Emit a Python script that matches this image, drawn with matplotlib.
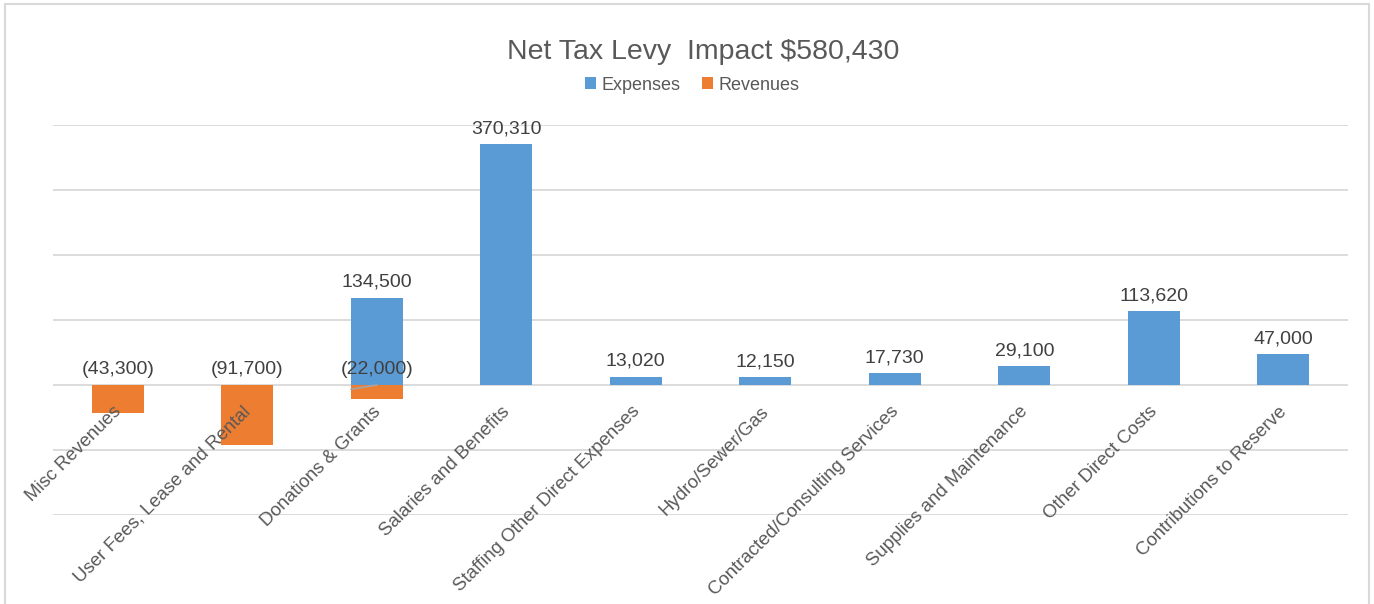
import matplotlib.pyplot as plt
from matplotlib.patches import Rectangle
import numpy as np

plt.rcParams['font.family'] = ['Liberation Sans', 'DejaVu Sans']

categories = ["Misc Revenues", "User Fees, Lease and Rental", "Donations & Grants",
              "Salaries and Benefits", "Staffing Other Direct Expenses", "Hydro/Sewer/Gas",
              "Contracted/Consulting Services", "Supplies and Maintenance",
              "Other Direct Costs", "Contributions to Reserve"]
expenses = [np.nan, np.nan, 134500, 370310, 13020, 12150, 17730, 29100, 113620, 47000]
revenues = [-43300, -91700, -22000, np.nan, np.nan, np.nan, np.nan, np.nan, np.nan, np.nan]
title = "Net Tax Levy  Impact $580,430"

blue = "#5B9BD5"
orange = "#ED7D31"
grey = "#595959"

fig = plt.figure(figsize=(13.74, 6.04), dpi=100)
W, H = 1374, 604
ax = fig.add_axes([53 / W, 1 - 515 / H, (1348 - 53) / W, (515 - 125) / H])

# chart frame
fig.patches.append(Rectangle((5 / W, -0.01), (1369 - 5) / W, 1 - 4 / H + 0.01,
                             transform=fig.transFigure, fill=False,
                             edgecolor="#D9D9D9", linewidth=1.5))

x = np.arange(len(categories))
ax.bar(x, expenses, width=0.4, color=blue, label="Expenses", zorder=3)
ax.bar(x, revenues, width=0.4, color=orange, label="Revenues", zorder=3)

ax.set_xlim(-0.5, len(categories) - 0.5)
ax.set_ylim(-200000, 400000)
ax.set_yticks(np.arange(-200000, 400001, 100000))
ax.yaxis.grid(True, color="#D9D9D9", linewidth=1.3)
ax.set_axisbelow(True)
ax.set_xticks([])
ax.tick_params(left=False, labelleft=False)
for s in ax.spines.values():
    s.set_visible(False)

# data labels
for i, v in enumerate(expenses):
    if not np.isnan(v):
        ax.annotate(f"{v:,.0f}", (i, v), xytext=(0, 5), textcoords="offset points",
                    ha="center", va="bottom", fontsize=14, color="#404040")
for i, v in enumerate(revenues):
    if not np.isnan(v):
        ax.annotate(f"({-v:,.0f})", (i, 0), xytext=(0, 5), textcoords="offset points",
                    ha="center", va="bottom", fontsize=14, color="#404040")
        if not np.isnan(expenses[i]):
            # leader line for the overlapping label
            ax.annotate("", (i - 0.2, v * 0.3), xytext=(i, 0), textcoords="data",
                        arrowprops=dict(arrowstyle="-", color="#A6A6A6", lw=1.2,
                                        shrinkA=0, shrinkB=0))

# category labels at the zero line
for i, c in enumerate(categories):
    ax.annotate(c, (i, 0), xytext=(-3.5, -13), textcoords="offset points",
                ha="right", va="top", rotation=45, rotation_mode="anchor",
                fontsize=13.4, color=grey, annotation_clip=False)

fig.text(703 / W, 1 - 52 / H, title, ha="center", va="center", fontsize=20.5, color=grey)
fig.legend(loc="center", bbox_to_anchor=(692 / W, 1 - 85 / H), ncol=2, frameon=False,
           fontsize=13, handlelength=0.6, handleheight=0.6, handletextpad=0.3,
           columnspacing=1.2, labelcolor=grey)

fig.savefig("out.png", dpi=100)
